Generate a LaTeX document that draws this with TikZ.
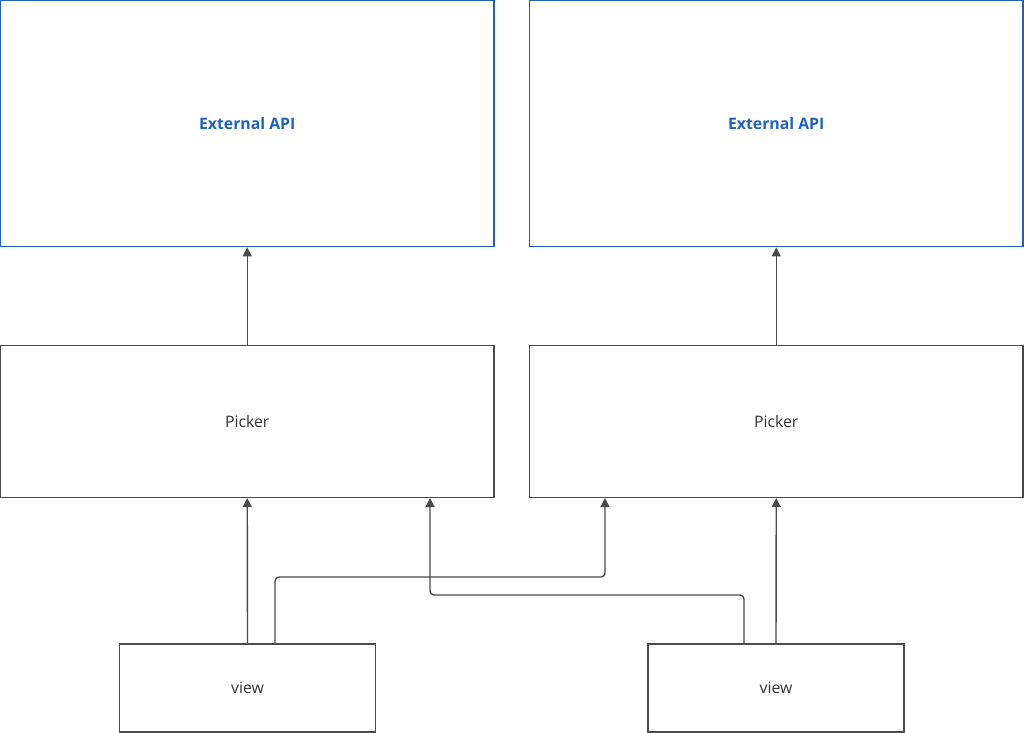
\documentclass[tikz,border=0pt]{standalone}
\usepackage{fontspec}
\setmainfont{Open Sans}
\usetikzlibrary{arrows.meta}
\definecolor{apiblue}{HTML}{1F63B8}
\definecolor{linegray}{HTML}{4A4A4A}
\definecolor{textgray}{HTML}{333333}
\begin{document}
\begin{tikzpicture}[x=1pt,y=-1pt,
  apibox/.style={draw=apiblue,line width=1.8pt,minimum width=493.5pt,minimum height=246pt,inner sep=0pt,font=\fontsize{15.8}{18}\selectfont\bfseries,text=apiblue},
  pickbox/.style={draw=linegray,line width=1.1pt,minimum width=493.5pt,minimum height=152pt,inner sep=0pt,font=\fontsize{15.8}{18}\selectfont,text=textgray},
  viewbox/.style={draw=linegray,line width=1.1pt,minimum width=256pt,minimum height=88pt,inner sep=0pt,font=\fontsize{15.8}{18}\selectfont,text=textgray},
  conn/.style={draw=linegray,line width=1.4pt,-{Triangle[width=9pt,length=9pt]},rounded corners=4pt}]
\useasboundingbox (0,0) rectangle (1024,732);
\node[apibox] (api1) at (247.25,123.5) {External API};
\node[apibox] (api2) at (776.25,123.5) {External API};
\node[pickbox] (pick1) at (247.25,421.5) {Picker};
\node[pickbox] (pick2) at (776.25,421.5) {Picker};
\node[viewbox] (view1) at (247.5,688) {view};
\node[viewbox] (view2) at (776,688) {view};
\draw[conn] (pick1.north) -- (api1.south);
\draw[conn] (pick2.north) -- (api2.south);
\draw[conn] (view1.north) -- (pick1.south);
\draw[conn] (view2.north) -- (pick2.south);
\draw[conn] (view1.north -| 275,0) -- (275,577) -- (605,577) -- (pick2.south -| 605,0);
\draw[conn] (view2.north -| 744,0) -- (744,595) -- (430,595) -- (pick1.south -| 430,0);
\end{tikzpicture}
\end{document}
